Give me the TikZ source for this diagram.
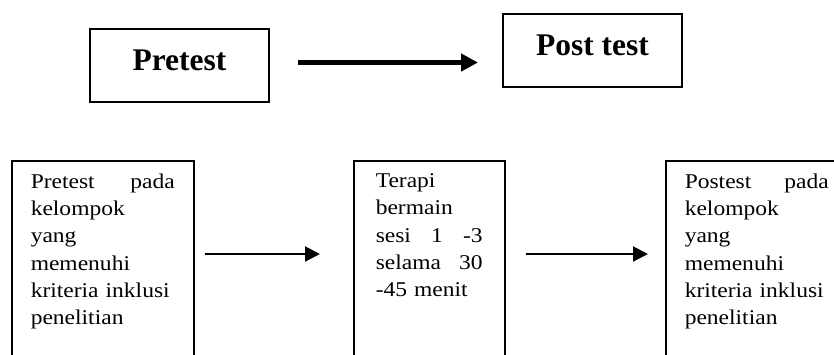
\documentclass[tikz,border=0pt]{standalone}
\usepackage{fontspec}
\setmainfont{Liberation Serif}
\newfontfamily\widefont[FakeStretch=1.12]{Liberation Serif}
\usetikzlibrary{arrows.meta}

\begin{document}
\begin{tikzpicture}[x=1pt, y=1pt,
    topbox/.style={draw, line width=2pt, minimum width=179pt, minimum height=73pt, text depth=10.5pt, font=\fontsize{31.5}{36}\selectfont\bfseries},
    stagebox/.style={draw, line width=1.5pt, anchor=north west, align=left, inner xsep=19pt, inner ysep=13pt, text depth=170pt, font=\widefont\fontsize{21}{27.3}\selectfont},
    bigarrow/.style={line width=5.5pt, -{Triangle[length=17pt, width=17pt]}},
    smallarrow/.style={line width=2pt, -{Triangle[length=15pt, width=15pt]}}]
    \useasboundingbox (0,0) rectangle (834,354);
    \clip (0,0) rectangle (834,354);

    % design
    \node[topbox] (pre) at (179.5,288.5) {Pretest};
    \node[topbox] (post) at (592.5,303.5) {Post test};
    \draw[bigarrow] ([xshift=28pt, yshift=3pt]pre.east) -- ([xshift=-24pt, yshift=-12pt]post.west);

    % stages
    \node[stagebox, text width=144pt] (pretest) at (11,194)
        {Pretest\hfill pada\\kelompok\\yang\\memenuhi\\kriteria inklusi\\penelitian};
    \node[stagebox, text width=107pt, inner xsep=22pt] (therapy) at (353,194)
        {Terapi\\bermain\\sesi\hfill 1\hfill -3\\selama\hfill 30\\-45 menit};
    \node[stagebox, text width=144pt] (posttest) at (665,194)
        {Postest\hfill pada\\kelompok\\yang\\memenuhi\\kriteria inklusi\\penelitian};

    \draw[smallarrow] ([xshift=10pt, yshift=-94pt]pretest.north east) -- ([xshift=-33pt, yshift=-94pt]therapy.north west);
    \draw[smallarrow] ([xshift=20pt, yshift=-94pt]therapy.north east) -- ([xshift=-17pt, yshift=-94pt]posttest.north west);
\end{tikzpicture}
\end{document}
